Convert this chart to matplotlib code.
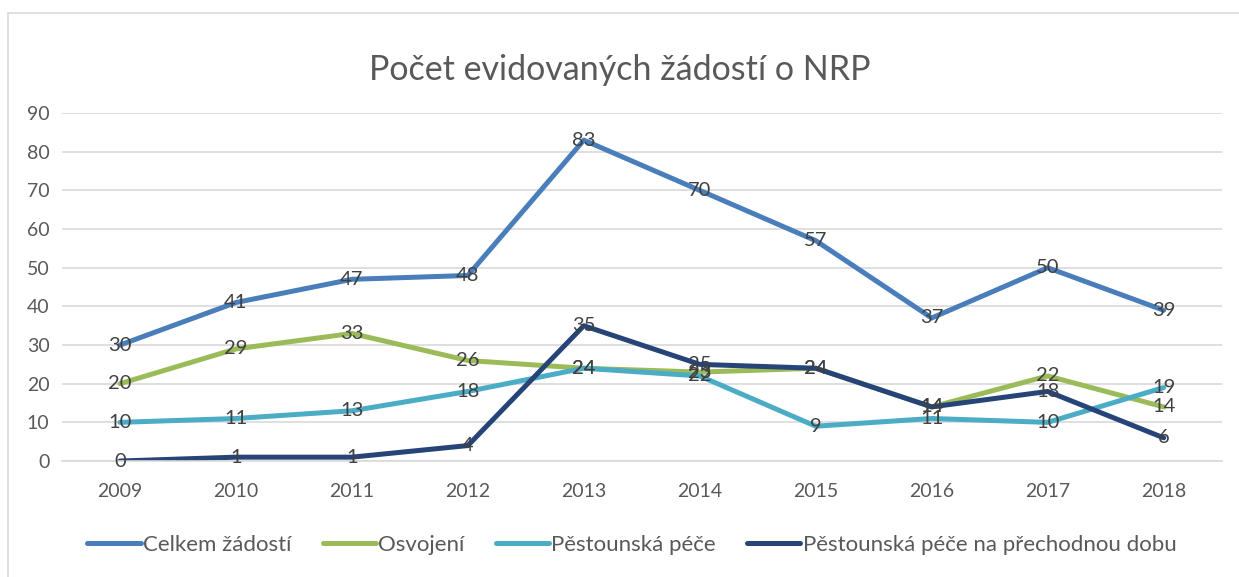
import matplotlib
matplotlib.use("Agg")
import matplotlib.pyplot as plt
from matplotlib.patches import Rectangle

years = ["2009", "2010", "2011", "2012", "2013", "2014", "2015", "2016", "2017", "2018"]
celkem = [30, 41, 47, 48, 83, 70, 57, 37, 50, 39]
osvojeni = [20, 29, 33, 26, 24, 23, 24, 14, 22, 14]
pestounska = [10, 11, 13, 18, 24, 22, 9, 11, 10, 19]
prechodna = [0, 1, 1, 4, 35, 25, 24, 14, 18, 6]

series = [
    ("Celkem žádostí", celkem, "#4a7ebb"),
    ("Osvojení", osvojeni, "#9bbb59"),
    ("Pěstounská péče", pestounska, "#4bacc6"),
    ("Pěstounská péče na přechodnou dobu", prechodna, "#264478"),
]

plt.rcParams["font.family"] = ["Lato", "DejaVu Sans"]

fig = plt.figure(figsize=(12.39, 5.77), dpi=100)
ax = fig.add_axes([0.050, 0.201, 0.936, 0.603])

x = list(range(len(years)))
for name, vals, color in series:
    ax.plot(x, vals, color=color, linewidth=3.6, label=name, solid_capstyle="round",
            solid_joinstyle="round")
for name, vals, color in series:
    for xi, v in zip(x, vals):
        ax.text(xi, v, str(v), ha="center", va="center", fontsize=14.5, color="#404040")

ax.set_xlim(-0.5, len(years) - 0.5)
ax.set_ylim(0, 90)
ax.set_yticks(range(0, 91, 10))
ax.set_xticks(x)
ax.set_xticklabels(years)
ax.tick_params(axis="both", length=0, labelsize=14, colors="#595959")
ax.tick_params(axis="x", pad=16)
ax.tick_params(axis="y", pad=9)
ax.grid(axis="y", color="#d9d9d9", linewidth=1.2)
ax.set_axisbelow(True)
for s in ["top", "right", "left"]:
    ax.spines[s].set_visible(False)
ax.spines["bottom"].set_color("#d9d9d9")
ax.spines["bottom"].set_linewidth(1.2)

fig.text(0.5, 0.878, "Počet evidovaných žádostí o NRP", ha="center", va="center",
         fontsize=24.5, color="#595959")

fig.legend(loc="center", bbox_to_anchor=(0.51, 0.055), ncol=4, frameon=False,
           fontsize=16, handlelength=2.4, handletextpad=0.1, columnspacing=1.4,
           labelcolor="#595959")

fig.patches.append(Rectangle((8 / 1239, -0.1), 1.1, 1 - 13 / 577 + 0.1,
                             transform=fig.transFigure, fill=False,
                             edgecolor="#d9d9d9", linewidth=1.2))

fig.savefig("out.png", dpi=100)
